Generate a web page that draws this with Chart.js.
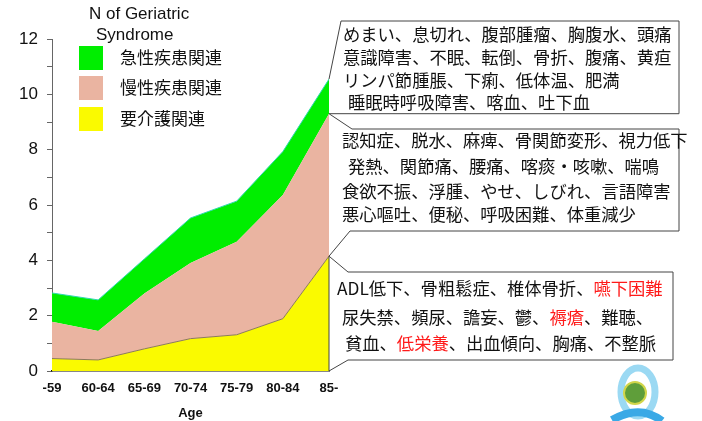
<!DOCTYPE html>
<html lang="ja">
<head>
<meta charset="UTF-8">
<title>N of Geriatric Syndrome</title>
<script src="https://cdn.jsdelivr.net/npm/chart.js@4"></script>
<style>
  html, body { margin: 0; padding: 0; background: #fff; }
  #wrap { width: 702px; height: 421px; }
</style>
</head>
<body>
<div id="wrap"><canvas id="syndromeChart" width="702" height="421"></canvas></div>
<script>
// age groups on the x axis
const ageLabels = ['-59', '60-64', '65-69', '70-74', '75-79', '80-84', '85-'];

// values per group (stacked: care at the bottom, then chronic, then acute)
const careValues    = [0.45, 0.40, 0.80, 1.17, 1.31, 1.89, 4.15];
const chronicValues = [1.33, 1.05, 2.00, 2.73, 3.36, 4.47, 5.15];
const acuteValues   = [1.04, 1.12, 1.25, 1.63, 1.47, 1.57, 1.25];

const seriesNames = ['急性疾患関連', '慢性疾患関連', '要介護関連'];
const yTickLabels = [0, 2, 4, 6, 8, 10, 12];

// symptom lists shown in the callouts (red = highlighted)
const acuteSymptoms = [
  'めまい、息切れ、腹部腫瘤、胸腹水、頭痛',
  '意識障害、不眠、転倒、骨折、腹痛、黄疸',
  'リンパ節腫脹、下痢、低体温、肥満',
  '睡眠時呼吸障害、喀血、吐下血'
];
const chronicSymptoms = [
  '認知症、脱水、麻痺、骨関節変形、視力低下',
  '発熱、関節痛、腰痛、喀痰・咳嗽、喘鳴',
  '食欲不振、浮腫、やせ、しびれ、言語障害',
  '悪心嘔吐、便秘、呼吸困難、体重減少'
];
const careSymptoms = [
  [['ADL低下、骨粗鬆症、椎体骨折、', false], ['嚥下困難', true]],
  [['尿失禁、頻尿、譫妄、鬱、', false], ['褥瘡', true], ['、難聴、', false]],
  [['貧血、', false], ['低栄養', true], ['、出血傾向、胸痛、不整脈', false]]
];

const GREEN = '#00ee00';
const PINK = '#eab4a1';
const YELLOW = '#fafa00';
const LATIN = '"Liberation Sans", Arial, sans-serif';
const CJK = '"Noto Sans CJK JP", "Noto Sans", sans-serif';

// draws the title, legend, callouts and the logo
const overlayPlugin = {
  id: 'overlay',
  afterDraw(chart) {
    const ctx = chart.ctx;
    const xs = chart.scales.x, ys = chart.scales.y;
    const last = ageLabels.length - 1;
    const tipX = xs.getPixelForValue(last);
    const careTop = ys.getPixelForValue(careValues[last]);
    const chronicTop = ys.getPixelForValue(careValues[last] + chronicValues[last]);
    const acuteTop = ys.getPixelForValue(careValues[last] + chronicValues[last] + acuteValues[last]);
    const base = ys.getPixelForValue(0);

    ctx.save();

    // y axis title
    ctx.fillStyle = '#111';
    ctx.font = '17px ' + LATIN;
    ctx.textBaseline = 'middle';
    ctx.textAlign = 'left';
    ctx.fillText('N of Geriatric', 89, 14);
    ctx.fillText('Syndrome', 96, 35);

    // legend
    const legendColors = [GREEN, PINK, YELLOW];
    const boxTops = [46, 76, 107];
    ctx.font = '17px ' + CJK;
    seriesNames.forEach((name, i) => {
      ctx.fillStyle = legendColors[i];
      ctx.fillRect(79, boxTops[i], 24, 24);
      ctx.fillStyle = '#111';
      ctx.fillText(name, 120, boxTops[i] + 12);
    });

    // callouts
    ctx.strokeStyle = '#444';
    ctx.lineWidth = 1;
    function shape(points, close) {
      ctx.beginPath();
      ctx.moveTo(points[0][0], points[0][1]);
      for (let i = 1; i < points.length; i++) ctx.lineTo(points[i][0], points[i][1]);
      if (close) ctx.closePath();
      ctx.fillStyle = '#fff';
      ctx.fill();
      ctx.stroke();
    }
    shape([[tipX, acuteTop], [341, 21], [679, 21], [679, chronicTop], [tipX, chronicTop]], false);
    shape([[tipX, chronicTop], [352, 129], [679, 129], [679, 231], [350, 231], [tipX, careTop]], false);
    shape([[tipX, careTop], [348, 272], [673, 272], [673, 360], [348, 360], [tipX, base]], true);

    ctx.font = '17.3px ' + CJK;
    ctx.fillStyle = '#111';
    const acuteX = [343, 343, 343, 348];
    const acuteY = [34, 57, 80, 102];
    acuteSymptoms.forEach((t, i) => ctx.fillText(t, acuteX[i], acuteY[i]));

    const chronicX = [342, 348, 342, 342];
    const chronicY = [140, 166, 191, 214];
    chronicSymptoms.forEach((t, i) => ctx.fillText(t, chronicX[i], chronicY[i]));

    const careX = [337, 342, 345];
    const careY = [288, 317, 343];
    careSymptoms.forEach((parts, i) => {
      let x = careX[i];
      parts.forEach(([t, red]) => {
        ctx.fillStyle = red ? '#ff1a1a' : '#111';
        ctx.fillText(t, x, careY[i]);
        x += ctx.measureText(t).width;
      });
    });

    // logo (rough)
    ctx.lineWidth = 7;
    ctx.strokeStyle = '#9bd9f3';
    ctx.beginPath();
    ctx.ellipse(638, 392, 17, 24, 0, 0, Math.PI * 2);
    ctx.stroke();
    ctx.strokeStyle = '#3aa9e6';
    ctx.lineWidth = 8;
    ctx.beginPath();
    ctx.moveTo(612, 420);
    ctx.quadraticCurveTo(640, 404, 662, 421);
    ctx.stroke();
    ctx.fillStyle = '#5f9e3a';
    ctx.strokeStyle = '#d2d64a';
    ctx.lineWidth = 2;
    ctx.beginPath();
    ctx.arc(635, 393, 11, 0, Math.PI * 2);
    ctx.fill();
    ctx.stroke();

    ctx.restore();
  }
};

function renderChart() {
  const ctx = document.getElementById('syndromeChart').getContext('2d');
  new Chart(ctx, {
    type: 'line',
    data: {
      labels: ageLabels,
      datasets: [
        {
          label: seriesNames[2],
          data: careValues,
          backgroundColor: YELLOW,
          borderColor: '#8c7a5c',
          borderWidth: 1,
          fill: 'origin'
        },
        {
          label: seriesNames[1],
          data: chronicValues,
          backgroundColor: PINK,
          borderColor: PINK,
          borderWidth: 0,
          fill: '-1'
        },
        {
          label: seriesNames[0],
          data: acuteValues,
          backgroundColor: GREEN,
          borderColor: '#30d8b0',
          borderWidth: 1,
          fill: '-1'
        }
      ]
    },
    options: {
      responsive: false,
      animation: false,
      elements: { point: { radius: 0 }, line: { tension: 0 } },
      layout: { padding: { left: 0, right: 373, top: 39, bottom: 0 } },
      plugins: { legend: { display: false }, tooltip: { enabled: false } },
      scales: {
        x: {
          stacked: true,
          offset: false,
          grid: { display: false },
          border: { color: '#111', width: 1.5 },
          ticks: {
            autoSkip: false, maxRotation: 0, padding: 2, color: '#111',
            font: { family: LATIN, size: 13, weight: 'bold' }
          },
          title: {
            display: true, text: 'Age', color: '#111',
            font: { family: LATIN, size: 13, weight: 'bold' },
            padding: { top: 4, bottom: 0 }
          },
          afterFit(s) { s.height = 50; }
        },
        y: {
          stacked: true,
          min: 0,
          max: 12,
          grid: { drawOnChartArea: false, tickLength: 5, color: '#666' },
          border: { color: '#666' },
          ticks: {
            stepSize: 1, autoSkip: false, padding: 9, color: '#111',
            font: { family: LATIN, size: 17 },
            callback: v => yTickLabels.includes(v) ? v : ''
          },
          afterFit(s) { s.width = 52; }
        }
      }
    },
    plugins: [overlayPlugin]
  });
}

window.onload = renderChart;
</script>
</body>
</html>
